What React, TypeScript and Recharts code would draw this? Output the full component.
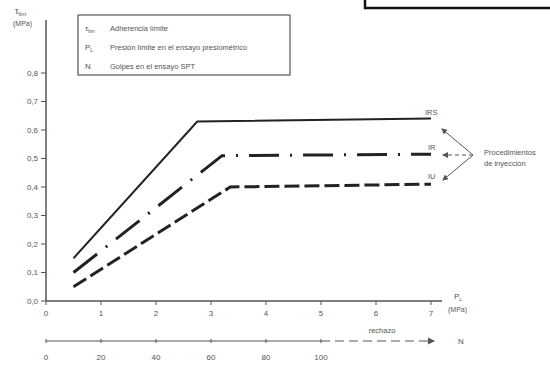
import React from 'react';
import { ComposedChart, Line, XAxis, YAxis } from 'recharts';

// Presión límite PL (MPa) y adherencia límite (MPa)
const irsPL = [0.5, 2.75, 7.0];
const irsTau = [0.15, 0.63, 0.64];
const irPL = [0.5, 3.2, 7.0];
const irTau = [0.1, 0.51, 0.515];
const iuPL = [0.5, 3.35, 7.0];
const iuTau = [0.05, 0.4, 0.41];

const plTicks = [0, 1, 2, 3, 4, 5, 6, 7];
const nTicks = [0, 20, 40, 60, 80, 100];
const tauTicks = [0, 0.1, 0.2, 0.3, 0.4, 0.5, 0.6, 0.7, 0.8];

const legendItems = [
  { sym: 'τ', sub: 'lim', text: 'Adherencia límite' },
  { sym: 'P', sub: 'L', text: 'Presión límite en el ensayo presiométrico' },
  { sym: 'N', sub: '', text: 'Golpes en el ensayo SPT' },
];

const toRows = (xs: number[], ys: number[]) => xs.map((pl, i) => ({ pl, tau: ys[i] }));

const irsData = toRows(irsPL, irsTau);
const irData = toRows(irPL, irTau);
const iuData = toRows(iuPL, iuTau);

const FONT = '"Liberation Sans", Arial, sans-serif';
const INK = '#222';
const GREY = '#555';

// geometría del área de trazado (misma que el margin del gráfico)
const PLOT_LEFT = 46;
const PX_PER_MPA = 55;
const N_PER_MPA = 20; // N ≈ 20 · PL en la escala auxiliar
const nToX = (n: number) => PLOT_LEFT + (n / N_PER_MPA) * PX_PER_MPA;

const fmt = (v: number) => v.toFixed(1).replace('.', ',');

export default function App() {
  const nAxisY = 341;
  return (
    <div style={{ position: 'absolute', left: 0, top: 0, width: 550, height: 371, background: '#fff' }}>
      <ComposedChart
        width={550}
        height={371}
        margin={{ top: 20, right: 108, bottom: 0, left: 0 }}
        style={{ fontFamily: FONT }}
      >
        <XAxis
          type="number"
          dataKey="pl"
          domain={[0, 7.2]}
          ticks={plTicks}
          allowDataOverflow
          height={70}
          tickSize={4}
          tickMargin={5}
          tick={{ fontSize: 8, fill: GREY }}
          stroke={GREY}
          axisLine={{ stroke: GREY, strokeWidth: 1.5 }}
        />
        <YAxis
          type="number"
          domain={[0, 0.986]}
          ticks={tauTicks}
          allowDataOverflow
          width={46}
          tickSize={5}
          tickMargin={3}
          tickFormatter={fmt}
          tick={{ fontSize: 8, fill: GREY }}
          stroke={GREY}
          axisLine={{ stroke: GREY, strokeWidth: 1.5 }}
        />
        <Line
          data={irsData}
          dataKey="tau"
          type="linear"
          stroke={INK}
          strokeWidth={2}
          dot={false}
          isAnimationActive={false}
        />
        <Line
          data={irData}
          dataKey="tau"
          type="linear"
          stroke={INK}
          strokeWidth={3}
          strokeDasharray="30 11 2 11"
          dot={false}
          isAnimationActive={false}
        />
        <Line
          data={iuData}
          dataKey="tau"
          type="linear"
          stroke={INK}
          strokeWidth={3}
          strokeDasharray="15 5"
          dot={false}
          isAnimationActive={false}
        />
      </ComposedChart>

      {/* anotaciones de la figura escaneada */}
      <svg
        width={550}
        height={371}
        style={{ position: 'absolute', left: 0, top: 0, pointerEvents: 'none', fontFamily: FONT }}
      >
        <defs>
          <marker id="ah" markerWidth="6" markerHeight="6" refX="5" refY="3" orient="auto">
            <path d="M0,0 L6,3 L0,6 z" fill={GREY} />
          </marker>
        </defs>

        {/* recuadro cortado arriba a la derecha */}
        <rect x={365} y={-10} width={200} height={18} fill="none" stroke="#111" strokeWidth={2.5} />

        {/* título eje Y */}
        <text x={15} y={14} fontSize={9} fill={GREY}>
          τ<tspan fontSize={6} dy={2}>lim</tspan>
        </text>
        <text x={13} y={26} fontSize={7} fill={GREY}>(MPa)</text>

        {/* leyenda */}
        <rect x={78} y={15} width={212} height={60} fill="#fff" stroke={GREY} strokeWidth={1.2} />
        {legendItems.map((it, i) => (
          <g key={i}>
            <text x={85} y={31 + i * 19} fontSize={8} fill={GREY}>
              {it.sym}
              {it.sub && <tspan fontSize={5} dy={2}>{it.sub}</tspan>}
            </text>
            <text x={110} y={31 + i * 19} fontSize={7.5} fill={GREY}>{it.text}</text>
          </g>
        ))}

        {/* título eje X */}
        <text x={454} y={299} fontSize={8} fill={GREY}>
          P<tspan fontSize={5} dy={2}>L</tspan>
        </text>
        <text x={448} y={312} fontSize={7} fill={GREY}>(MPa)</text>

        {/* eje auxiliar N (SPT) */}
        <line x1={nToX(0)} y1={nAxisY} x2={nToX(100)} y2={nAxisY} stroke={GREY} strokeWidth={1.2} />
        <line
          x1={nToX(100)}
          y1={nAxisY}
          x2={434}
          y2={nAxisY}
          stroke={GREY}
          strokeWidth={1.2}
          strokeDasharray="9 5"
          markerEnd="url(#ah)"
        />
        {nTicks.map((n) => (
          <g key={n}>
            <line x1={nToX(n)} y1={nAxisY - 2} x2={nToX(n)} y2={nAxisY + 2} stroke={GREY} strokeWidth={1} />
            <text x={nToX(n)} y={nAxisY + 19} fontSize={8} fill={GREY} textAnchor="middle">{n}</text>
          </g>
        ))}
        <text x={382} y={333} fontSize={7.5} fill={GREY} textAnchor="middle">rechazo</text>
        <text x={458} y={344} fontSize={8} fill={GREY}>N</text>

        {/* etiquetas de curvas */}
        <text x={425} y={115} fontSize={7.5} fill={GREY}>IRS</text>
        <text x={428} y={150} fontSize={7.5} fill={GREY}>IR</text>
        <text x={428} y={179} fontSize={7.5} fill={GREY}>IU</text>

        {/* flechas a procedimientos */}
        <line x1={473} y1={155} x2={442} y2={129} stroke={GREY} strokeWidth={1} markerEnd="url(#ah)" />
        <line x1={473} y1={155} x2={443} y2={155} stroke={GREY} strokeWidth={1} strokeDasharray="4 3" markerEnd="url(#ah)" />
        <line x1={473} y1={155} x2={443} y2={180} stroke={GREY} strokeWidth={1} markerEnd="url(#ah)" />
        <text x={484} y={155} fontSize={7.5} fill={GREY}>Procedimientos</text>
        <text x={484} y={166} fontSize={7.5} fill={GREY}>de  inyección</text>
      </svg>
    </div>
  );
}
